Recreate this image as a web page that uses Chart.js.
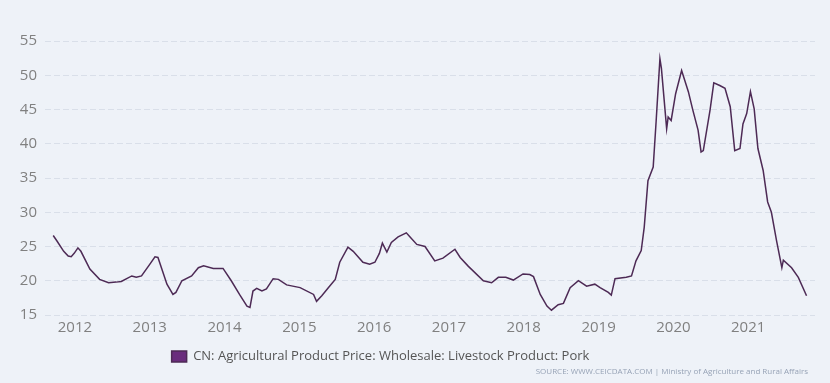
<!DOCTYPE html>
<html>
<head>
<meta charset="utf-8">
<script src="https://cdn.jsdelivr.net/npm/chart.js@4"></script>
<style>
  html, body { margin: 0; padding: 0; background: #eef2f8; }
  #wrap { position: relative; width: 830px; height: 383px; }
  #source {
    position: absolute; right: 22px; top: 365px;
    font: 8px "Open Sans", sans-serif; color: #97a3b6; white-space: nowrap;
  }
</style>
</head>
<body>
<div id="wrap">
  <canvas id="porkChart" width="830" height="383"></canvas>
  <div id="source">SOURCE: WWW.CEICDATA.COM | Ministry of Agriculture and Rural Affairs</div>
</div>
<script>
// time position as decimal year, price in RMB/kg
var timeYears = [
    2011.71, 2011.76, 2011.85, 2011.91, 2011.95, 2011.99, 2012.04, 2012.08, 2012.20, 2012.33,
    2012.45, 2012.55, 2012.62, 2012.76, 2012.82, 2012.89, 2013.00, 2013.07, 2013.11, 2013.23,
    2013.31, 2013.35, 2013.43, 2013.56, 2013.65, 2013.72, 2013.85, 2013.98, 2014.09, 2014.20,
    2014.30, 2014.34, 2014.38, 2014.43, 2014.50, 2014.56, 2014.65, 2014.72, 2014.83, 2015.01,
    2015.19, 2015.23, 2015.30, 2015.39, 2015.48, 2015.54, 2015.65, 2015.72, 2015.85, 2015.94,
    2016.01, 2016.07, 2016.11, 2016.17, 2016.23, 2016.32, 2016.43, 2016.48, 2016.57, 2016.68,
    2016.81, 2016.92, 2017.08, 2017.15, 2017.26, 2017.46, 2017.57, 2017.66, 2017.76, 2017.86,
    2017.99, 2018.08, 2018.13, 2018.22, 2018.31, 2018.37, 2018.46, 2018.53, 2018.62, 2018.73,
    2018.84, 2018.95, 2019.02, 2019.13, 2019.17, 2019.22, 2019.37, 2019.44, 2019.50, 2019.57,
    2019.61, 2019.66, 2019.73, 2019.77, 2019.82, 2019.84, 2019.91, 2019.93, 2019.97, 2020.03,
    2020.11, 2020.20, 2020.26, 2020.33, 2020.37, 2020.40, 2020.49, 2020.54, 2020.62, 2020.69,
    2020.76, 2020.82, 2020.89, 2020.93, 2020.98, 2021.03, 2021.08, 2021.13, 2021.20, 2021.26,
    2021.31, 2021.38, 2021.45, 2021.47, 2021.58, 2021.67, 2021.78
];
var prices = [
    26.6, 25.8, 24.3, 23.6, 23.5, 24.0, 24.8, 24.3, 21.7, 20.2,
    19.7, 19.8, 19.9, 20.7, 20.5, 20.7, 22.4, 23.5, 23.4, 19.5,
    18.0, 18.3, 20.0, 20.7, 21.9, 22.2, 21.8, 21.8, 20.0, 18.0,
    16.3, 16.1, 18.5, 18.9, 18.5, 18.8, 20.3, 20.2, 19.4, 19.0,
    18.0, 17.0, 17.8, 19.0, 20.2, 22.7, 24.9, 24.3, 22.7, 22.4,
    22.7, 24.0, 25.5, 24.2, 25.6, 26.4, 27.0, 26.4, 25.3, 25.0,
    22.9, 23.3, 24.6, 23.4, 22.1, 20.0, 19.7, 20.5, 20.5, 20.1,
    21.0, 20.9, 20.6, 18.0, 16.3, 15.7, 16.5, 16.7, 19.0, 20.0,
    19.2, 19.5, 19.0, 18.3, 17.9, 20.3, 20.5, 20.7, 22.9, 24.4,
    27.8, 34.6, 36.6, 43.4, 52.4, 51.0, 42.2, 43.9, 43.4, 47.3,
    50.7, 47.6, 44.9, 42.0, 38.8, 39.0, 44.9, 48.9, 48.5, 48.1,
    45.4, 39.0, 39.3, 42.9, 44.4, 47.6, 45.1, 39.3, 36.1, 31.5,
    30.0, 25.8, 21.9, 23.0, 21.9, 20.5, 17.8
];
var yearTicks = [2012, 2013, 2014, 2015, 2016, 2017, 2018, 2019, 2020, 2021];
var yTicks = [15, 20, 25, 30, 35, 40, 45, 50, 55];
var seriesName = 'CN: Agricultural Product Price: Wholesale: Livestock Product: Pork';

var points = timeYears.map(function(t, i) { return { x: t, y: prices[i] }; });

// nudge the legend a bit to the left like the original
var legendShift = {
    id: 'legendShift',
    afterLayout: function(chart) {
        if (chart.legend) {
            chart.legend.left -= 27;
            chart.legend.right -= 27;
        }
    }
};

var ctx = document.getElementById('porkChart').getContext('2d');
var porkChart = new Chart(ctx, {
    type: 'line',
    data: {
        datasets: [{
            label: seriesName,
            data: points,
            borderColor: '#4d2a55',
            backgroundColor: '#6a2c7d',
            borderWidth: 1.5,
            pointRadius: 0,
            tension: 0
        }]
    },
    options: {
        responsive: false,
        animation: false,
        layout: { padding: { top: 41, right: 15, bottom: 10, left: 0 } },
        plugins: {
            tooltip: { enabled: false },
            legend: {
                position: 'bottom',
                labels: {
                    boxWidth: 15,
                    boxHeight: 11,
                    padding: 8,
                    color: '#555',
                    font: { family: 'Open Sans', size: 13 }
                }
            }
        },
        scales: {
            x: {
                type: 'linear',
                min: 2011.6,
                max: 2021.893,
                afterBuildTicks: function(axis) {
                    axis.ticks = yearTicks.map(function(v) { return { value: v }; });
                },
                afterFit: function(axis) { axis.height = 27; },
                grid: { display: false, drawTicks: false },
                border: { display: false },
                ticks: {
                    padding: 4,
                    color: '#808080',
                    font: { family: 'Open Sans', size: 15 },
                    callback: function(v) { return String(v); }
                }
            },
            y: {
                min: 15,
                max: 55,
                afterBuildTicks: function(axis) {
                    axis.ticks = yTicks.map(function(v) { return { value: v }; });
                },
                afterFit: function(axis) { axis.width = 45; },
                grid: { color: '#d9dfe9', drawTicks: false },
                border: { display: false, dash: [6, 3] },
                ticks: {
                    padding: 8,
                    color: '#808080',
                    font: { family: 'Open Sans', size: 15 }
                }
            }
        }
    },
    plugins: [legendShift]
});
</script>
</body>
</html>
